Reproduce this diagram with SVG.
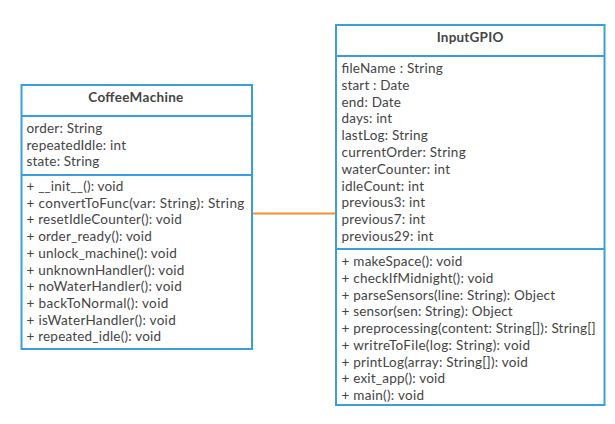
<svg xmlns="http://www.w3.org/2000/svg" width="615" height="424" viewBox="0 0 615 424">
<style>
.box{fill:#ffffff;stroke:#3a9ede;stroke-width:2}
.sep{stroke:#3a9ede;stroke-width:2}
.t{font-family:Lato,"Liberation Sans",sans-serif;font-size:13.5px;fill:#444444}
.title{font-family:Lato,"Liberation Sans",sans-serif;font-size:13.5px;font-weight:bold;fill:#444444;text-anchor:middle}
.conn{stroke:#f0922e;stroke-width:2;fill:none}
</style>
<rect width="615" height="424" fill="#ffffff"/>
<g id="connectors">
<line class="conn" x1="252" y1="213.5" x2="336" y2="213.5"/>
</g>
<g id="CoffeeMachine">
<rect class="box" x="21.5" y="85" width="230.5" height="264"/>
<line class="sep" x1="21.5" y1="116" x2="252" y2="116"/>
<line class="sep" x1="21.5" y1="175" x2="252" y2="175"/>
<text class="title" x="135.8" y="102" textLength="95">CoffeeMachine</text>
<text class="t" x="26.5" y="133" textLength="75.8">order: String</text>
<text class="t" x="26.5" y="149.7" textLength="99.5">repeatedIdle: int</text>
<text class="t" x="26.5" y="166.4" textLength="72.8">state: String</text>
<text class="t" x="26.5" y="191" textLength="96.8">+ __init__(): void</text>
<text class="t" x="26.5" y="207.7" textLength="217.8">+ convertToFunc(var: String): String</text>
<text class="t" x="26.5" y="224.4" textLength="155.2">+ resetIdleCounter(): void</text>
<text class="t" x="26.5" y="241.1" textLength="125.2">+ order_ready(): void</text>
<text class="t" x="26.5" y="257.8" textLength="150.2">+ unlock_machine(): void</text>
<text class="t" x="26.5" y="274.5" textLength="157.8">+ unknownHandler(): void</text>
<text class="t" x="26.5" y="291.2" textLength="155.2">+ noWaterHandler(): void</text>
<text class="t" x="26.5" y="307.9" textLength="141.8">+ backToNormal(): void</text>
<text class="t" x="26.5" y="324.6" textLength="149.2">+ isWaterHandler(): void</text>
<text class="t" x="26.5" y="341.3" textLength="134.5">+ repeated_idle(): void</text>
</g>
<g id="InputGPIO">
<rect class="box" x="336" y="25" width="268.5" height="380"/>
<line class="sep" x1="336" y1="56" x2="604.5" y2="56"/>
<line class="sep" x1="336" y1="249" x2="604.5" y2="249"/>
<text class="title" x="470" y="42" textLength="66.6">InputGPIO</text>
<text class="t" x="341.5" y="73" textLength="101.2">fileName : String</text>
<text class="t" x="341.5" y="89.8" textLength="67.8">start : Date</text>
<text class="t" x="341.5" y="106.6" textLength="59.5">end: Date</text>
<text class="t" x="341.5" y="123.4" textLength="50.5">days: int</text>
<text class="t" x="341.5" y="140.2" textLength="86.2">lastLog: String</text>
<text class="t" x="341.5" y="157" textLength="124.2">currentOrder: String</text>
<text class="t" x="341.5" y="173.8" textLength="108.5">waterCounter: int</text>
<text class="t" x="341.5" y="190.6" textLength="82.5">idleCount: int</text>
<text class="t" x="341.5" y="207.4" textLength="83.5">previous3: int</text>
<text class="t" x="341.5" y="224.2" textLength="83.5">previous7: int</text>
<text class="t" x="341.5" y="241" textLength="91.8">previous29: int</text>
<text class="t" x="341.5" y="266" textLength="120.8">+ makeSpace(): void</text>
<text class="t" x="341.5" y="282.75" textLength="151.8">+ checkIfMidnight(): void</text>
<text class="t" x="341.5" y="299.5" textLength="213.5">+ parseSensors(line: String): Object</text>
<text class="t" x="341.5" y="316.25" textLength="171.2">+ sensor(sen: String): Object</text>
<text class="t" x="341.5" y="333" textLength="254.2">+ preprocessing(content: String[]): String[]</text>
<text class="t" x="341.5" y="349.75" textLength="188.5">+ writreToFile(log: String): void</text>
<text class="t" x="341.5" y="366.5" textLength="186.2">+ printLog(array: String[]): void</text>
<text class="t" x="341.5" y="383.25" textLength="103.5">+ exit_app(): void</text>
<text class="t" x="341.5" y="400" textLength="82.5">+ main(): void</text>
</g>
</svg>
